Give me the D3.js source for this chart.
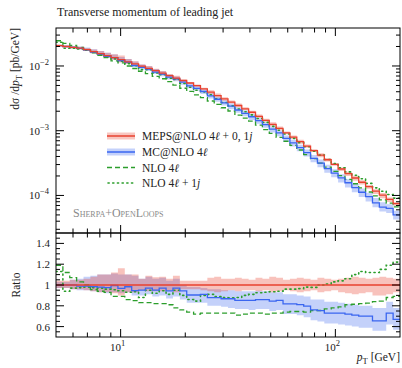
<!DOCTYPE html>
<html><head><meta charset="utf-8">
<script src="https://cdn.jsdelivr.net/npm/d3@7"></script>
<style>
body{margin:0;background:#fff}
svg{display:block}
text{font-family:"Liberation Serif","DejaVu Serif",serif;fill:#222}
</style>
</head><body>
<svg id="c" width="402" height="368"></svg>
<script>
// ---------- data ----------
const binEdges = [5,5.383,5.795,6.238,6.716,7.230,7.784,8.380,9.021,9.712,10.455,11.257,12.119,13.045,14.045,15.120,16.279,17.525,18.866,20.311,21.865,23.542,25.344,27.281,29.372,31.620,34.044,36.650,39.454,42.476,45.73,49.234,53.002,57.053,61.426,66.128,71.197,76.647,82.510,88.830,95.63,102.963,110.843,119.31,128.46,138.29,148.89,160.29,172.55,185.77,200];

const mepsXsec = [0.0206,0.0200,0.01936,0.01884,0.01786,0.01667,0.01552,0.01449,0.01349,0.01253,
0.01161,0.01076,0.00998,0.00920,0.00845,0.00774,0.00710,0.00650,0.00596,0.00546,
0.00498,0.00443,0.00394,0.00349,0.00310,0.00276,0.00245,0.00218,0.00193,0.00167,
0.001445,0.00125,0.001084,0.000929,0.000794,0.000676,0.000578,0.000492,0.000419,0.000356,
0.000302,0.000256,0.000218,0.000186,0.000160,0.000137,0.000117,0.000101,0.0000867,0.0000746];

const mepsBandHi = [1.04,1.04,1.05,1.05,1.06,1.08,1.10,1.10,1.12,1.16,1.10,1.10,1.06,1.09,1.075,1.08,1.06,1.09,1.04,1.04,
1.04,1.04,1.07,1.08,1.06,1.06,1.07,1.06,1.05,1.07,1.06,1.08,1.07,1.05,1.06,1.07,1.06,1.05,1.07,1.06,
1.05,1.06,1.07,1.08,1.07,1.06,1.07,1.08,1.07,1.06];
const mepsBandLo = [0.97,0.97,0.96,0.96,0.95,0.94,0.93,0.93,0.92,0.90,0.93,0.93,0.95,0.94,0.94,0.94,0.95,0.93,0.96,0.96,
0.96,0.95,0.94,0.93,0.94,0.95,0.94,0.95,0.95,0.94,0.95,0.93,0.94,0.95,0.94,0.93,0.94,0.95,0.93,0.94,
0.95,0.93,0.92,0.91,0.92,0.93,0.90,0.90,0.91,0.93];

const mcnloRatio = [1.0,1.0,1.0,0.99,0.99,0.985,0.98,0.975,0.995,0.967,0.983,0.945,0.951,0.970,0.951,0.970,0.944,0.970,0.944,0.904,
0.904,0.910,0.878,0.878,0.868,0.868,0.852,0.852,0.852,0.860,0.860,0.845,0.852,0.819,0.819,0.812,0.796,0.760,0.753,0.730,
0.730,0.730,0.720,0.710,0.700,0.700,0.655,0.655,0.730,0.670];
const mcnloBandHi = [1.03,1.03,1.05,1.06,1.08,1.09,1.10,1.10,1.11,1.10,1.10,1.09,1.06,1.08,1.06,1.07,1.04,1.06,1.00,0.98,
0.98,0.97,0.96,0.96,0.95,0.95,0.94,0.94,0.94,0.945,0.94,0.93,0.93,0.91,0.91,0.90,0.89,0.86,0.86,0.84,
0.84,0.83,0.82,0.81,0.80,0.80,0.78,0.78,0.84,0.78];
const mcnloBandLo = [0.97,0.97,0.96,0.95,0.95,0.94,0.93,0.92,0.93,0.92,0.93,0.90,0.90,0.91,0.89,0.90,0.87,0.89,0.86,0.83,
0.83,0.83,0.80,0.80,0.79,0.78,0.77,0.77,0.76,0.77,0.77,0.75,0.76,0.72,0.72,0.71,0.69,0.66,0.65,0.63,
0.63,0.62,0.61,0.60,0.59,0.59,0.56,0.56,0.62,0.57];

const nlo4lRatio = [1.19,1.12,1.07,1.03,1.0,0.955,0.94,0.93,0.89,0.89,0.86,0.85,0.83,0.83,0.82,0.82,0.81,0.78,0.76,0.74,
0.72,0.73,0.73,0.73,0.73,0.73,0.71,0.72,0.73,0.73,0.72,0.73,0.73,0.74,0.745,0.745,0.74,0.753,0.755,0.77,
0.78,0.79,0.81,0.815,0.82,0.825,0.84,0.845,0.88,0.89];
const nlo4l1jRatio = [1.13,0.94,0.97,0.975,0.98,0.975,0.97,0.96,0.955,0.945,0.93,0.935,0.88,0.95,0.92,0.945,0.91,0.95,0.90,0.86,
0.845,0.90,0.91,0.89,0.88,0.878,0.88,0.90,0.91,0.925,0.93,0.935,0.94,0.96,0.96,0.965,0.98,0.977,1.0,1.01,
1.03,1.04,1.06,1.10,1.13,1.12,1.12,1.15,1.19,1.22];

const legendLabels = [
  [["MEPS@NLO 4",0],["ℓ",1],[" + 0, 1",0],["j",1]],
  [["MC@NLO 4",0],["ℓ",1]],
  [["NLO 4",0],["ℓ",1]],
  [["NLO 4",0],["ℓ",1],[" + 1",0],["j",1]]
];
const mainYMajor = [1e-4,1e-3,1e-2];
const mainYLabels = ["−4","−3","−2"];
const ratioMajor = [0.6,0.8,1,1.2,1.4];
const ratioLabels = ["0.6","0.8","1","1.2","1.4"];
const xMajor = [10,100];
const xMajorLabels = ["1","2"];

// ---------- layout ----------
const L=56, R=400, mainTop=28, mainBot=233, ratTop=233, ratBot=337;
const cRed="#e8412f", cBlue="#3a66f0", cGreen="#2c9e2c";
const svg=d3.select("#c");
const x=d3.scaleLog().domain([5,200]).range([L,R]);
const y=d3.scaleLog().domain([2.63e-5,0.0386]).range([mainBot,mainTop]);
const yr=d3.scaleLinear().domain([0.5,1.5]).range([ratBot,ratTop]);

const defs=svg.append("defs");
defs.append("clipPath").attr("id","cm").append("rect").attr("x",L).attr("y",mainTop).attr("width",R-L).attr("height",mainBot-mainTop);
defs.append("clipPath").attr("id","cr").append("rect").attr("x",L).attr("y",ratTop).attr("width",R-L).attr("height",ratBot-ratTop);

const n=mepsXsec.length;
function pts(f){const a=[];for(let i=0;i<n;i++)a.push({x:binEdges[i],i});a.push({x:binEdges[n],i:n-1});return a.map(d=>({x:d.x,v:f(d.i)}));}
function ptsBand(flo,fhi){const a=[];for(let i=0;i<=n;i++){const k=Math.min(i,n-1);a.push({x:binEdges[i],lo:flo(k),hi:fhi(k)});}return a;}

const gm=svg.append("g").attr("clip-path","url(#cm)");
const gr=svg.append("g").attr("clip-path","url(#cr)");

function drawPanel(g,ys,val){
  const area=d3.area().x(d=>x(d.x)).y0(d=>ys(d.lo)).y1(d=>ys(d.hi)).curve(d3.curveStepAfter);
  const line=d3.line().x(d=>x(d.x)).y(d=>ys(d.v)).curve(d3.curveStepAfter);
  g.append("path").attr("d",area(ptsBand(i=>val(i,mcnloBandLo[i]),i=>val(i,mcnloBandHi[i])))).attr("fill",cBlue).attr("fill-opacity",0.3);
  g.append("path").attr("d",area(ptsBand(i=>val(i,mepsBandLo[i]),i=>val(i,mepsBandHi[i])))).attr("fill",cRed).attr("fill-opacity",0.32);
  g.append("path").attr("d",line(pts(i=>val(i,nlo4lRatio[i])))).attr("fill","none").attr("stroke",cGreen).attr("stroke-width",1.3).attr("stroke-dasharray","5,3");
  g.append("path").attr("d",line(pts(i=>val(i,nlo4l1jRatio[i])))).attr("fill","none").attr("stroke",cGreen).attr("stroke-width",1.6).attr("stroke-dasharray","1.2,3.5").attr("stroke-linecap","round");
  g.append("path").attr("d",line(pts(i=>val(i,mcnloRatio[i])))).attr("fill","none").attr("stroke",cBlue).attr("stroke-width",1.3);
  g.append("path").attr("d",line(pts(i=>val(i,1)))).attr("fill","none").attr("stroke",cRed).attr("stroke-width",1.3);
}
drawPanel(gm,y,(i,r)=>mepsXsec[i]*r);
drawPanel(gr,yr,(i,r)=>r);

// ---------- frames & ticks ----------
const ax=svg.append("g").attr("stroke","#000").attr("stroke-width",1);
[[mainTop,mainBot],[ratTop,ratBot]].forEach(([t,b])=>{
  ax.append("rect").attr("x",L).attr("y",t).attr("width",R-L).attr("height",b-t).attr("fill","none");
});
const xMinor=[6,7,8,9,20,30,40,50,60,70,80,90];
function xticks(yy,dir){
  xMajor.forEach(v=>ax.append("line").attr("x1",x(v)).attr("x2",x(v)).attr("y1",yy).attr("y2",yy+dir*8));
  xMinor.forEach(v=>ax.append("line").attr("x1",x(v)).attr("x2",x(v)).attr("y1",yy).attr("y2",yy+dir*4.5));
}
xticks(mainTop,1);xticks(mainBot,-1);xticks(ratTop,1);xticks(ratBot,-1);
const yMinor=[];[1e-5,1e-4,1e-3,1e-2].forEach(d=>{for(let k=2;k<=9;k++){const v=d*k;if(v>y.domain()[0]&&v<y.domain()[1])yMinor.push(v);}});
function yt(ys,v,len){ax.append("line").attr("x1",L).attr("x2",L+len).attr("y1",ys(v)).attr("y2",ys(v));ax.append("line").attr("x1",R).attr("x2",R-len).attr("y1",ys(v)).attr("y2",ys(v));}
mainYMajor.forEach(v=>yt(y,v,8));yMinor.forEach(v=>yt(y,v,4));
d3.range(0.55,1.5,0.05).forEach(v=>{const m=ratioMajor.some(q=>Math.abs(q-v)<1e-6);yt(yr,v,m?8:4);});

// ---------- text ----------
const fs=11.5;
svg.append("text").attr("x",57).attr("y",16).attr("font-size",12).text("Transverse momentum of leading jet");
mainYMajor.forEach((v,i)=>{
  const t=svg.append("text").attr("x",49).attr("y",y(v)+4).attr("text-anchor","end").attr("font-size",11);
  t.append("tspan").text("10");
  t.append("tspan").attr("dy",-5).attr("font-size",8.5).text(mainYLabels[i]);
});
ratioMajor.forEach((v,i)=>{
  svg.append("text").attr("x",50).attr("y",yr(v)+4).attr("text-anchor","end").attr("font-size",11).text(ratioLabels[i]);
});
xMajor.forEach((v,i)=>{
  const t=svg.append("text").attr("x",x(v)-3).attr("y",351).attr("text-anchor","middle").attr("font-size",11);
  t.append("tspan").text("10");
  t.append("tspan").attr("dy",-5).attr("font-size",8.5).text(xMajorLabels[i]);
});
// x label
{const t=svg.append("text").attr("x",400).attr("y",361).attr("text-anchor","end").attr("font-size",fs);
 t.append("tspan").attr("font-style","italic").text("p");
 t.append("tspan").attr("dy",2.5).attr("font-size",8.5).text("T");
 t.append("tspan").attr("dy",-2.5).text(" [GeV]");}
// y label
{const t=svg.append("text").attr("transform","translate(19,28) rotate(-90)").attr("text-anchor","end").attr("font-size",fs);
 t.append("tspan").text("dσ /d");
 t.append("tspan").attr("font-style","italic").text("p");
 t.append("tspan").attr("dy",2.5).attr("font-size",8.5).text("T");
 t.append("tspan").attr("dy",-2.5).text(" [pb/GeV]");}
svg.append("text").attr("transform",`translate(20,${yr(1)}) rotate(-90)`).attr("text-anchor","middle").attr("font-size",fs).text("Ratio");

// legend
const legY=[136,152,167.5,183];
const lg=svg.append("g");
legY.forEach((yy,i)=>{
  if(i===0||i===1){
    const c=i===0?cRed:cBlue;
    lg.append("rect").attr("x",107).attr("y",yy-3.5).attr("width",28).attr("height",7).attr("fill",c).attr("fill-opacity",0.3);
    lg.append("line").attr("x1",107).attr("x2",135).attr("y1",yy).attr("y2",yy).attr("stroke",c).attr("stroke-width",1.5);
  } else if(i===2){
    lg.append("line").attr("x1",107).attr("x2",135).attr("y1",yy).attr("y2",yy).attr("stroke",cGreen).attr("stroke-width",1.3).attr("stroke-dasharray","5,3");
  } else {
    lg.append("line").attr("x1",108).attr("x2",135).attr("y1",yy).attr("y2",yy).attr("stroke",cGreen).attr("stroke-width",1.6).attr("stroke-dasharray","1.2,3.5").attr("stroke-linecap","round");
  }
  const t=lg.append("text").attr("x",142).attr("y",yy+4).attr("font-size",fs);
  legendLabels[i].forEach(([s,it])=>t.append("tspan").attr("font-style",it?"italic":null).text(s));
});
svg.append("text").attr("x",73).attr("y",217).attr("font-size",12).attr("font-variant","small-caps").style("fill","#8a8a8a").text("Sherpa+OpenLoops");
</script>
</body></html>
